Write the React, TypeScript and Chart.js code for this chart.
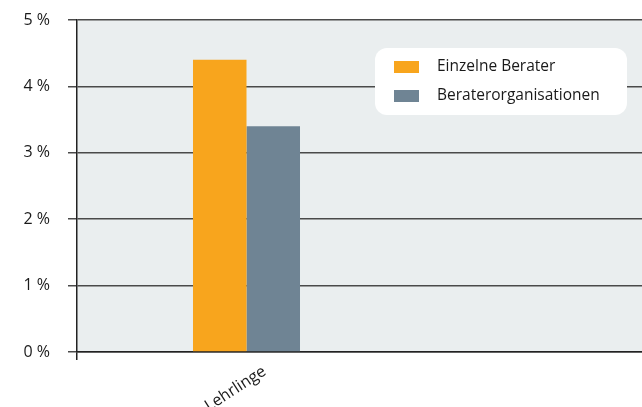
import React, { useEffect, useRef } from "react";
import { Chart, registerables } from "chart.js";

Chart.register(...registerables);

const categories = ["", "Lehrlinge", "", "", ""];
const seriesNames = ["Einzelne Berater", "Beraterorganisationen"];
const einzelneBerater = [null, 4.4, null, null, null];
const beraterorganisationen = [null, 3.4, null, null, null];
const yTicks = [0, 1, 2, 3, 4, 5];

const FONT = "'Open Sans', 'Noto Sans', sans-serif";

const bgPlugin = {
  id: "plotBg",
  beforeDraw(chart: any) {
    const { ctx, chartArea } = chart;
    ctx.save();
    ctx.fillStyle = "#eaeeef";
    ctx.fillRect(chartArea.left, chartArea.top, chartArea.right - chartArea.left, chartArea.bottom - chartArea.top);
    ctx.restore();
  },
};

const legendPlugin = {
  id: "boxLegend",
  afterDraw(chart: any) {
    const { ctx, chartArea } = chart;
    const x = chartArea.left + 298;
    const y = chartArea.top + 28;
    const w = 252;
    const h = 67;
    const r = 12;
    ctx.save();
    ctx.fillStyle = "#ffffff";
    ctx.beginPath();
    ctx.moveTo(x + r, y);
    ctx.arcTo(x + w, y, x + w, y + h, r);
    ctx.arcTo(x + w, y + h, x, y + h, r);
    ctx.arcTo(x, y + h, x, y, r);
    ctx.arcTo(x, y, x + w, y, r);
    ctx.closePath();
    ctx.fill();
    ctx.font = `15.5px ${FONT}`;
    ctx.textBaseline = "middle";
    ctx.textAlign = "left";
    chart.data.datasets.forEach((ds: any, i: number) => {
      const cy = y + 19 + i * 29;
      ctx.fillStyle = ds.backgroundColor;
      ctx.fillRect(x + 19, cy - 6, 25, 12);
      ctx.fillStyle = "#1a1a1a";
      ctx.fillText(ds.label, x + 62, cy);
    });
    ctx.restore();
  },
};

export default function App() {
  const ref = useRef<HTMLCanvasElement>(null);
  useEffect(() => {
    if (!ref.current) return;
    const chart = new Chart(ref.current, {
      type: "bar",
      data: {
        labels: categories,
        datasets: [
          { label: seriesNames[0], data: einzelneBerater as any, backgroundColor: "#f8a51d" },
          { label: seriesNames[1], data: beraterorganisationen as any, backgroundColor: "#6f8494" },
        ],
      },
      options: {
        animation: false,
        responsive: true,
        maintainAspectRatio: false,
        layout: { padding: { top: 20, right: 0, left: 0, bottom: 0 } },
        datasets: { bar: { barPercentage: 1, categoryPercentage: 0.947 } } as any,
        plugins: { legend: { display: false }, tooltip: { enabled: false } },
        scales: {
          x: {
            offset: true,
            grid: {
              display: true,
              drawOnChartArea: false,
              tickLength: 8,
              color: (c: any) => (c.index === 0 ? "#222" : "rgba(0,0,0,0)"),
              lineWidth: 1.5,
            } as any,
            border: { display: true, color: "#222", width: 1.5 },
            ticks: {
              minRotation: 33,
              maxRotation: 33,
              autoSkip: false,
              labelOffset: 18,
              padding: 2,
              color: "#1a1a1a",
              font: { family: FONT, size: 16 },
            },
            afterFit: (s: any) => {
              s.height = 55;
              s.paddingLeft = 0;
              s.paddingRight = 0;
            },
          },
          y: {
            min: 0,
            max: 5,
            afterBuildTicks: (s: any) => {
              s.ticks = yTicks.map((v) => ({ value: v }));
            },
            grid: { color: "#4a4a4a", lineWidth: 1.5, tickLength: 9 },
            border: { display: true, color: "#222", width: 1.5 },
            ticks: {
              padding: 18,
              color: "#1a1a1a",
              font: { family: FONT, size: 16 },
              callback: (v: any) => `${v} %`,
            },
            afterFit: (s: any) => {
              s.width = 77;
              s.paddingTop = 0;
              s.paddingBottom = 0;
            },
          },
        },
      },
      plugins: [bgPlugin, legendPlugin],
    });
    return () => chart.destroy();
  }, []);
  return (
    <div style={{ position: "absolute", left: 0, top: 0, width: 642, height: 407 }}>
      <canvas ref={ref} />
    </div>
  );
}
